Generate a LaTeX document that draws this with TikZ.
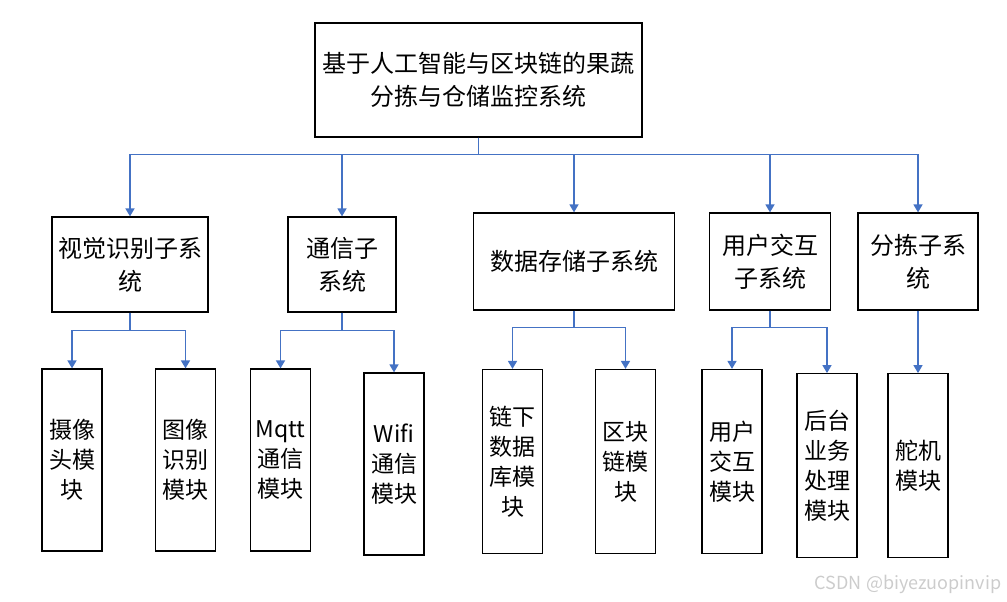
\documentclass[tikz,border=0pt]{standalone}
\usepackage{fontspec}
\setmainfont{Noto Sans CJK SC}
\usetikzlibrary{arrows.meta}
\definecolor{linkblue}{RGB}{68,114,196}
\tikzset{
	box/.style={draw,line width=1.2pt,inner sep=0pt,align=center,font=\fontsize{24}{33}\selectfont},
	leaf/.style={box,minimum width=60pt,font=\fontsize{23}{30}\selectfont},
	link/.style={draw=linkblue,line width=1.5pt,-{Triangle[width=9pt,length=8pt]}}
}
\begin{document}
\begin{tikzpicture}[x=1pt,y=-1pt]
	\useasboundingbox(0,0)rectangle(1007,602);
	\node[box,minimum width=327pt,minimum height=114pt](sys)at(478.5,80){基于人工智能与区块链的果蔬\\分拣与仓储监控系统};
	\node[box,minimum width=156pt,minimum height=95pt](vis)at(130,264.5){视觉识别子系\\统};
	\node[box,minimum width=108pt,minimum height=95pt](com)at(342,264.5){通信子\\系统};
	\node[box,minimum width=201pt,minimum height=97pt](dat)at(574,261.5){数据存储子系统};
	\node[box,minimum width=121pt,minimum height=97pt](usr)at(770,261.5){用户交互\\子系统};
	\node[box,minimum width=120pt,minimum height=97pt](srt)at(918,261.5){分拣子系\\统};
	\node[leaf,minimum height=182pt](cam)at(72,460){摄像\\头模\\块};
	\node[leaf,minimum height=182pt](img)at(185.5,460){图像\\识别\\模块};
	\node[leaf,minimum height=182pt](mqtt)at(280.5,460){Mqtt\\通信\\模块};
	\node[leaf,minimum height=182pt](wifi)at(394,464){Wifi\\通信\\模块};
	\node[leaf,minimum height=184pt](offc)at(512.5,461.5){链下\\数据\\库模\\块};
	\node[leaf,minimum height=184pt](chain)at(625.5,461.5){区块\\链模\\块};
	\node[leaf,minimum height=184pt](ui)at(732,461.5){用户\\交互\\模块};
	\node[leaf,minimum height=184pt](back)at(827,465.7){后台\\业务\\处理\\模块};
	\node[leaf,minimum height=184pt](servo)at(918,465.7){舵机\\模块};
	\draw[link](sys.south)--++(0,17)-|(vis.north);
	\draw[link](sys.south)--++(0,17)-|(com.north);
	\draw[link](sys.south)--++(0,17)-|(dat.north);
	\draw[link](sys.south)--++(0,17)-|(usr.north);
	\draw[link](sys.south)--++(0,17)-|(srt.north);
	\draw[link](vis.south)--++(0,18)-|(cam.north);
	\draw[link](vis.south)--++(0,18)-|(img.north);
	\draw[link](com.south)--++(0,18)-|(mqtt.north);
	\draw[link](com.south)--++(0,18)-|(wifi.north);
	\draw[link](dat.south)--++(0,17)-|(offc.north);
	\draw[link](dat.south)--++(0,17)-|(chain.north);
	\draw[link](usr.south)--++(0,17)-|(ui.north);
	\draw[link](usr.south)--++(0,17)-|(back.north);
	\draw[link](srt.south)--(servo.north);
	\node[text=gray!40,font=\fontsize{18}{21}\selectfont](wm)at(908,584){CSDN @biyezuopinvip};
\end{tikzpicture}
\end{document}
